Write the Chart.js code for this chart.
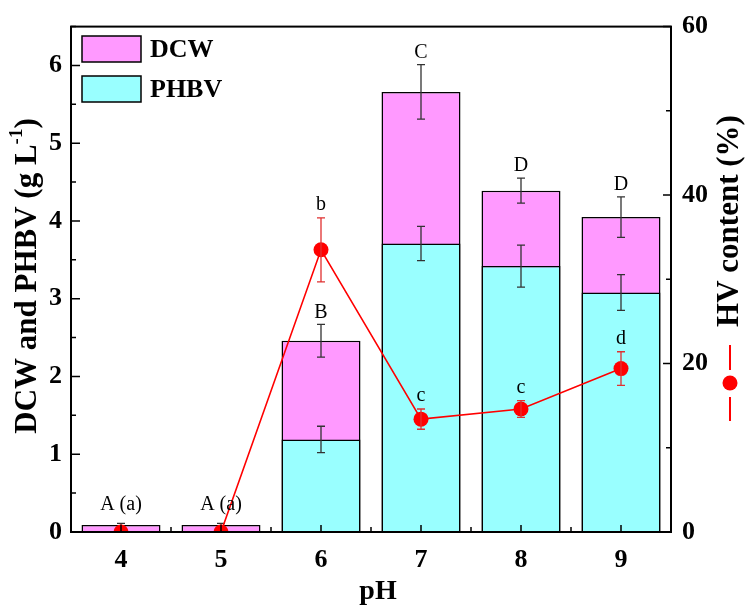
<!DOCTYPE html>
<html>
<head>
<meta charset="utf-8">
<script src="https://cdn.jsdelivr.net/npm/chart.js@4.4.1/dist/chart.umd.min.js"></script>
<style>
  body { margin: 0; background: #fff; }
  #wrap { width: 756px; height: 612px; }
</style>
</head>
<body>
<div id="wrap"><canvas id="chart" width="756" height="612"></canvas></div>
<script>
// data
const categories = ['4', '5', '6', '7', '8', '9'];
const dcw      = [0.09, 0.09, 2.46, 5.66, 4.39, 4.05];
const dcwErr   = [0.02, 0.02, 0.21, 0.35, 0.16, 0.26];
const phbv     = [0, 0, 1.19, 3.71, 3.42, 3.08];
const phbvErr  = [0, 0, 0.17, 0.22, 0.27, 0.23];
const hv       = [0, 0, 33.5, 13.4, 14.6, 19.4];
const hvErr    = [0, 0, 3.8, 1.2, 1.0, 2.0];
const barLetters = ['A (a)', 'A (a)', 'B', 'C', 'D', 'D'];
const hvLetters  = ['', '', 'b', 'c', 'c', 'd'];
const leftMax = 6.5, leftStep = 1, leftMinor = 0.5;
const rightMax = 60, rightStep = 20, rightMinor = 10;

const SERIF = '"Liberation Serif", "Times New Roman", serif';
const PINK = '#ff99ff', CYAN = '#99ffff', RED = '#ff0000';

function errBar(ctx, x, yTop, yBot, cap, color) {
    ctx.save();
    ctx.strokeStyle = color;
    ctx.lineWidth = 1.3;
    ctx.beginPath();
    ctx.moveTo(x, yTop); ctx.lineTo(x, yBot);
    ctx.moveTo(x - cap, yTop); ctx.lineTo(x + cap, yTop);
    ctx.moveTo(x - cap, yBot); ctx.lineTo(x + cap, yBot);
    ctx.stroke();
    ctx.restore();
}

const extras = {
    id: 'extras',
    // bar error bars go under the HV line
    beforeDatasetDraw(chart, args) {
        if (args.index !== 0) return;
        const ctx = chart.ctx, x = chart.scales.x, y = chart.scales.y;
        categories.forEach((c, i) => {
            const px = x.getPixelForValue(i);
            errBar(ctx, px, y.getPixelForValue(dcw[i] + dcwErr[i]), y.getPixelForValue(dcw[i] - dcwErr[i]), 4, '#333');
            if (phbv[i] > 0)
                errBar(ctx, px, y.getPixelForValue(phbv[i] + phbvErr[i]), y.getPixelForValue(phbv[i] - phbvErr[i]), 4, '#333');
        });
    },
    afterDraw(chart) {
        const ctx = chart.ctx, a = chart.chartArea;
        const x = chart.scales.x, y = chart.scales.y, y1 = chart.scales.y1;

        // HV error bars
        categories.forEach((c, i) => {
            if (hvErr[i] <= 0) return;
            const px = x.getPixelForValue(i);
            errBar(ctx, px, y1.getPixelForValue(hv[i] + hvErr[i]), y1.getPixelForValue(hv[i] - hvErr[i]), 4, '#e03030');
        });

        // significance letters
        ctx.save();
        ctx.fillStyle = '#000';
        ctx.font = '20px ' + SERIF;
        ctx.textAlign = 'center';
        ctx.textBaseline = 'middle';
        categories.forEach((c, i) => {
            const px = x.getPixelForValue(i);
            if (phbv[i] === 0) {
                ctx.fillText(barLetters[i], px, y.getPixelForValue(dcw[i]) - 20);
            } else {
                ctx.fillText(barLetters[i], px, y.getPixelForValue(dcw[i] + dcwErr[i]) - 12);
            }
            if (hvLetters[i])
                ctx.fillText(hvLetters[i], px, y1.getPixelForValue(hv[i] + hvErr[i]) - 13);
        });
        ctx.restore();

        // frame
        ctx.save();
        ctx.strokeStyle = '#000';
        ctx.lineWidth = 2;
        ctx.strokeRect(a.left, a.top, a.right - a.left, a.bottom - a.top);

        // inward ticks
        ctx.lineWidth = 1.5;
        ctx.beginPath();
        for (let v = 0; v <= leftMax + 1e-9; v += leftMinor) {
            const py = y.getPixelForValue(v);
            const major = Math.abs(v / leftStep - Math.round(v / leftStep)) < 1e-6;
            ctx.moveTo(a.left, py); ctx.lineTo(a.left + (major ? 9 : 5), py);
        }
        for (let v = 0; v <= rightMax; v += rightMinor) {
            const py = y1.getPixelForValue(v);
            const major = v % rightStep === 0;
            ctx.moveTo(a.right, py); ctx.lineTo(a.right - (major ? 8 : 5), py);
        }
        const step = (a.right - a.left) / categories.length;
        categories.forEach((c, i) => {
            const px = x.getPixelForValue(i);
            ctx.moveTo(px, a.bottom); ctx.lineTo(px, a.bottom - 7);
            if (i > 0) {
                const bx = px - step / 2;
                ctx.moveTo(bx, a.bottom); ctx.lineTo(bx, a.bottom - 5);
            }
        });
        ctx.stroke();
        ctx.restore();

        // axis titles
        ctx.save();
        ctx.fillStyle = '#000';
        ctx.textBaseline = 'middle';
        // left: DCW and PHBV (g L-1)
        ctx.translate(28, 276);
        ctx.rotate(-Math.PI / 2);
        const big = 'bold 31px ' + SERIF, sup = 'bold 19px ' + SERIF;
        const p1 = 'DCW and PHBV (g L', p2 = '-1', p3 = ')';
        ctx.font = big; const w1 = ctx.measureText(p1).width, w3 = ctx.measureText(p3).width;
        ctx.font = sup; const w2 = ctx.measureText(p2).width;
        let sx = -(w1 + w2 + w3) / 2;
        ctx.textAlign = 'left';
        ctx.font = big; ctx.fillText(p1, sx, 0); sx += w1;
        ctx.font = sup; ctx.fillText(p2, sx, -11); sx += w2;
        ctx.font = big; ctx.fillText(p3, sx, 0);
        ctx.restore();

        ctx.save();
        ctx.fillStyle = '#000';
        ctx.font = 'bold 31px ' + SERIF;
        ctx.textAlign = 'center';
        ctx.textBaseline = 'middle';
        ctx.translate(730, 221);
        ctx.rotate(-Math.PI / 2);
        ctx.fillText('HV content (%)', 0, 0);
        ctx.restore();

        // HV legend symbol under the right title
        ctx.save();
        ctx.strokeStyle = RED;
        ctx.fillStyle = RED;
        ctx.lineWidth = 2;
        ctx.beginPath();
        ctx.moveTo(730, 345); ctx.lineTo(730, 370);
        ctx.moveTo(730, 397); ctx.lineTo(730, 421);
        ctx.stroke();
        ctx.beginPath();
        ctx.arc(730, 383, 7.5, 0, Math.PI * 2);
        ctx.fill();
        ctx.restore();

        // x title
        ctx.save();
        ctx.fillStyle = '#000';
        ctx.font = 'bold 28px ' + SERIF;
        ctx.textAlign = 'center';
        ctx.textBaseline = 'middle';
        ctx.fillText('pH', 378, 592);
        ctx.restore();

        // bar legend, top left
        ctx.save();
        [['DCW', PINK, 49], ['PHBV', CYAN, 89]].forEach(([t, col, cy]) => {
            ctx.fillStyle = col;
            ctx.fillRect(82, cy - 13, 59, 26);
            ctx.strokeStyle = '#000';
            ctx.lineWidth = 1.5;
            ctx.strokeRect(82, cy - 13, 59, 26);
            ctx.fillStyle = '#000';
            ctx.font = 'bold 26px ' + SERIF;
            ctx.textAlign = 'left';
            ctx.textBaseline = 'middle';
            ctx.fillText(t, 150, cy + 1);
        });
        ctx.restore();
    }
};

new Chart(document.getElementById('chart'), {
    data: {
        labels: categories,
        datasets: [
            {
                type: 'line', label: 'HV content', data: hv, yAxisID: 'y1', order: 0,
                borderColor: RED, borderWidth: 1.6, backgroundColor: RED,
                pointRadius: 7.5, pointBorderWidth: 0, pointBackgroundColor: RED, tension: 0
            },
            {
                type: 'bar', label: 'PHBV', data: phbv, yAxisID: 'y', order: 1, grouped: false,
                backgroundColor: CYAN, borderColor: '#000', borderWidth: 1.5,
                barPercentage: 0.79, categoryPercentage: 1
            },
            {
                type: 'bar', label: 'DCW', data: dcw, yAxisID: 'y', order: 2, grouped: false,
                backgroundColor: PINK, borderColor: '#000', borderWidth: 1.5,
                barPercentage: 0.79, categoryPercentage: 1
            }
        ]
    },
    options: {
        responsive: false,
        animation: false,
        devicePixelRatio: 1,
        layout: { padding: { top: 18, left: 0, right: 0, bottom: 0 } },
        plugins: { legend: { display: false }, tooltip: { enabled: false } },
        scales: {
            x: {
                type: 'category', offset: true,
                grid: { display: false, drawTicks: false }, border: { display: false },
                ticks: { color: '#000', padding: 13, font: { family: SERIF, size: 26, weight: 'bold' } },
                afterFit: s => { s.height = 80; }
            },
            y: {
                position: 'left', min: 0, max: leftMax,
                grid: { display: false, drawTicks: false }, border: { display: false },
                ticks: { stepSize: leftStep, includeBounds: false, color: '#000', padding: 9,
                         font: { family: SERIF, size: 26, weight: 'bold' } },
                afterFit: s => { s.width = 71; }
            },
            y1: {
                position: 'right', min: 0, max: rightMax,
                grid: { display: false, drawTicks: false }, border: { display: false },
                ticks: { stepSize: rightStep, color: '#000', padding: 11,
                         font: { family: SERIF, size: 26, weight: 'bold' } },
                afterFit: s => { s.width = 85; }
            }
        }
    },
    plugins: [extras]
});
</script>
</body>
</html>
